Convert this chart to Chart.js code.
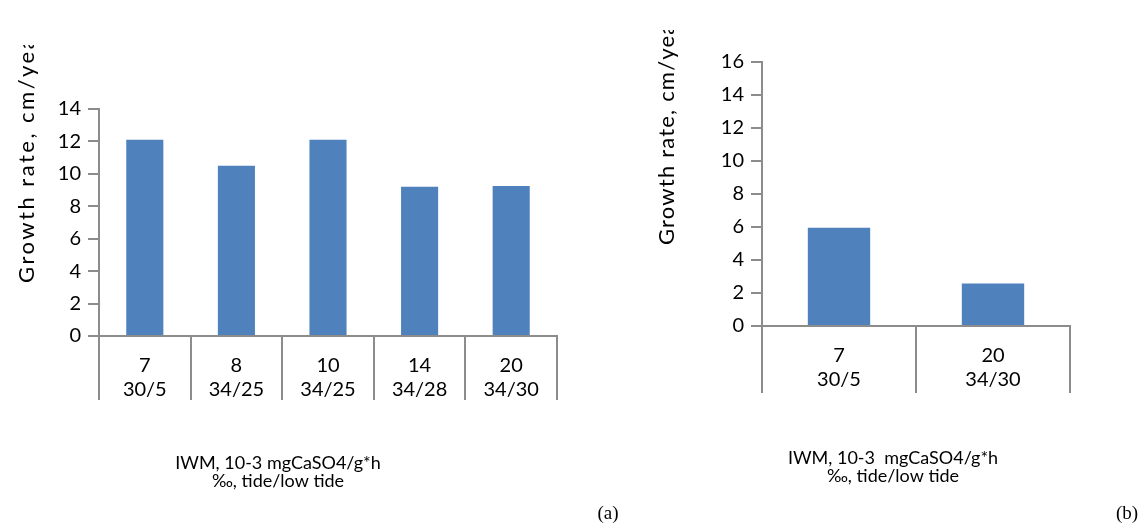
<!DOCTYPE html>
<html>
<head>
<meta charset="utf-8">
<script src="https://cdn.jsdelivr.net/npm/chart.js@4"></script>
<style>
  html, body { margin: 0; padding: 0; background: #fff; }
  #wrap { position: relative; width: 1139px; height: 531px; }
  #chart-a { position: absolute; left: 0; top: 0; }
  #chart-b { position: absolute; left: 620px; top: 0; }
</style>
</head>
<body>
<div id="wrap">
  <canvas id="chart-a" width="620" height="531"></canvas>
  <canvas id="chart-b" width="519" height="531"></canvas>
</div>
<script>
// panel (a)
const labelsA = [["7", "30/5"], ["8", "34/25"], ["10", "34/25"], ["14", "34/28"], ["20", "34/30"]];
const valuesA = [12.1, 10.5, 12.1, 9.2, 9.25];
const yMaxA = 14;

// panel (b)
const labelsB = [["7", "30/5"], ["20", "34/30"]];
const valuesB = [5.95, 2.57];
const yMaxB = 16;

const yTitle = "Growth rate, cm/year";
const xTitleA = ["IWM, 10-3 mgCaSO4/g*h", "‰, tide/low tide"];
const xTitleB = ["IWM, 10-3  mgCaSO4/g*h", "‰, tide/low tide"];

const BAR = "#4f81bd";
const AXIS = "#8c8c8c";
const FONT = "Lato, 'Open Sans', sans-serif";

// extra texts: rotated y title (clipped at the top), x title, panel letter
const extraText = {
  id: "extraText",
  afterDraw(chart, args, o) {
    const ctx = chart.ctx;
    ctx.save();
    ctx.beginPath();
    ctx.rect(0, o.clipTop, chart.width, chart.height - o.clipTop);
    ctx.clip();
    ctx.translate(o.yTitleX, o.yTitleBottom);
    ctx.rotate(-Math.PI / 2);
    ctx.fillStyle = "#000";
    ctx.font = "22px " + FONT;
    ctx.letterSpacing = o.spacing;
    ctx.textAlign = "left";
    ctx.textBaseline = "middle";
    ctx.fillText(yTitle, 0, 0);
    ctx.restore();

    ctx.save();
    ctx.fillStyle = "#000";
    ctx.font = "18px " + FONT;
    ctx.textAlign = "center";
    ctx.textBaseline = "middle";
    o.xTitle.forEach((t, i) => ctx.fillText(t, o.xTitleX, o.xTitleY + i * 18));
    ctx.font = "19px 'Liberation Serif', serif";
    ctx.fillText(o.panel, o.panelX, o.panelY);
    ctx.restore();
  }
};

function makeChart(id, labels, values, yMax, cfg) {
  return new Chart(document.getElementById(id), {
    type: "bar",
    data: {
      labels: labels,
      datasets: [{
        data: values,
        backgroundColor: BAR,
        categoryPercentage: 1,
        barPercentage: 0.405
      }]
    },
    plugins: [extraText],
    options: {
      responsive: false,
      animation: false,
      layout: { padding: cfg.padding },
      plugins: {
        legend: { display: false },
        tooltip: { enabled: false },
        extraText: cfg.text
      },
      scales: {
        x: {
          afterFit: (s) => { s.height = cfg.xHeight; },
          border: { color: AXIS, width: 2 },
          grid: {
            offset: true,
            drawOnChartArea: false,
            drawTicks: true,
            tickLength: cfg.xHeight,
            color: AXIS,
            lineWidth: 2
          },
          ticks: {
            color: "#000",
            font: { family: FONT, size: 20, lineHeight: 1.2 },
            padding: cfg.xPad,
            maxRotation: 0,
            autoSkip: false
          }
        },
        y: {
          min: 0,
          max: yMax,
          afterFit: (s) => { s.width = cfg.yWidth; },
          border: { color: AXIS, width: 2 },
          grid: {
            drawOnChartArea: false,
            drawTicks: true,
            tickLength: 11,
            color: AXIS,
            lineWidth: 2
          },
          ticks: {
            stepSize: 2,
            color: "#000",
            font: { family: FONT, size: 20 },
            padding: 7
          }
        }
      }
    }
  });
}

makeChart("chart-a", labelsA, valuesA, yMaxA, {
  padding: { left: 0, top: 109, right: 63, bottom: 131 },
  yWidth: 99,
  xHeight: 64,
  xPad: -46,
  text: {
    clipTop: 45, yTitleX: 27, yTitleBottom: 283, spacing: "2.5px",
    xTitle: xTitleA, xTitleX: 278, xTitleY: 463,
    panel: "(a)", panelX: 608, panelY: 514
  }
});

makeChart("chart-b", labelsB, valuesB, yMaxB, {
  padding: { left: 0, top: 62, right: 69, bottom: 138 },
  yWidth: 142,
  xHeight: 67,
  xPad: -49,
  text: {
    clipTop: 30, yTitleX: 47, yTitleBottom: 245, spacing: "1.2px",
    xTitle: xTitleB, xTitleX: 273, xTitleY: 458,
    panel: "(b)", panelX: 507, panelY: 514
  }
});
</script>
</body>
</html>
